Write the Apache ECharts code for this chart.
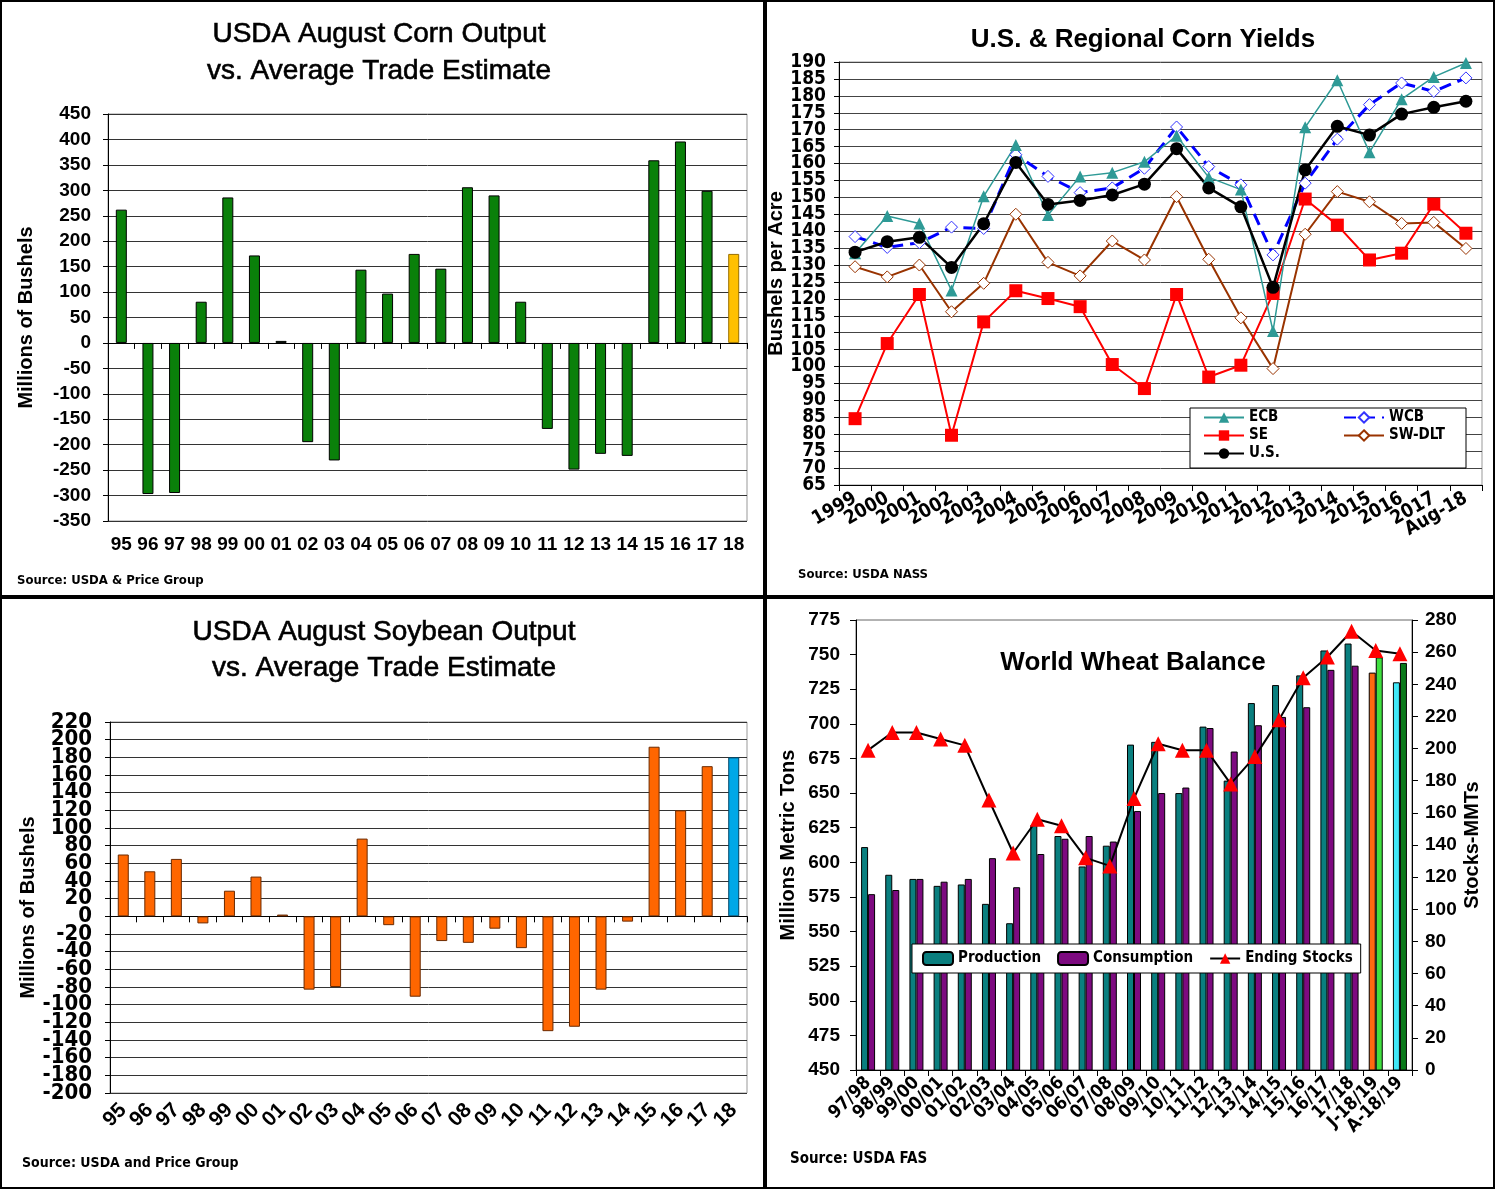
<!DOCTYPE html>
<html><head><meta charset="utf-8">
<script src="https://cdn.jsdelivr.net/npm/echarts@6/dist/echarts.min.js"></script>
<style>html,body{margin:0;padding:0;background:#fff}#c{width:1496px;height:1190px}</style>
</head><body><div id="c"></div>
<script>
// ---------- DATA ----------
const cornYears = ['95','96','97','98','99','00','01','02','03','04','05','06','07','08','09','10','11','12','13','14','15','16','17','18'];
const cornValues = [262,-297,-295,81,286,172,4,-195,-231,144,97,175,146,306,290,81,-169,-249,-218,-222,359,396,299,175];

const soyYears = cornYears;
const soyValues = [70,51,65,-8,29,45,2,-83,-80,88,-10,-91,-28,-30,-14,-36,-130,-125,-83,-6,192,120,170,180];

const yieldYears = ['1999','2000','2001','2002','2003','2004','2005','2006','2007','2008','2009','2010','2011','2012','2013','2014','2015','2016','2017','Aug-18'];
const ecbYield = [133.5,144.5,142.3,122.5,150.3,165.5,144.8,156.2,157.3,160.5,168.2,155.9,152.3,110.5,170.7,184.6,163.3,179,185.6,189.7];
const wcbYield = [138.4,135.2,136.6,141.2,140.8,162.6,156.2,151.4,152.8,158.6,170.8,159.1,153.7,133,154.2,167.2,177.4,183.8,181.3,185.3];
const seYield = [84.6,106.8,121.3,79.7,113.2,122.4,120.1,117.7,100.6,93.5,121.3,96.9,100.4,121.6,149.5,141.8,131.5,133.5,148,139.4];
const swdltYield = [129.5,126.5,130,116.2,124.6,145,130.8,126.8,137.1,131.5,150.2,131.7,114.4,99.4,139.1,151.7,148.7,142.3,142.6,134.9];
const usYield = [133.8,136.9,138.2,129.3,142.2,160.3,147.9,149.1,150.7,153.9,164.4,152.8,147.2,123.4,158.1,171,168.4,174.6,176.6,178.4];

const wheatYears = ['97/98','98/99','99/00','00/01','01/02','02/03','03/04','04/05','05/06','06/07','07/08','08/09','09/10','10/11','11/12','12/13','13/14','14/15','15/16','16/17','17/18','J-18/19','A-18/19'];
const wheatProduction = [611,591,588,583,584,570,556,627,619,597,612,685,687,650,698,659,715,728,735,753,758,737,730];
const wheatConsumption = [577,580,588,586,588,603,582,606,617,619,615,637,650,654,697,680,699,705,712,739,742,748,744];
const wheatStocks = [199,210,210,206,202,168,135,156,152,132,127,169,203,199,199,178,195,218,244,257,273,261,259];

// ---------- STYLE ----------
const F = '"Liberation Sans", Arial, sans-serif';
const FN = '"Liberation Sans Narrow", "Arial Narrow", "DejaVu Sans Condensed", "Liberation Sans", sans-serif';
const lab = (size, fam, extra) => Object.assign({color:'#000', fontWeight:'bold', fontSize:size, fontFamily:fam||F}, extra||{});

const chart = echarts.init(document.getElementById('c'), null, {renderer:'canvas'});

const cornData = cornValues.map((v,i)=> i===cornValues.length-1 ? {value:v, itemStyle:{color:'#FFC000', borderColor:'#9a7000'}} : v);
const soyData = soyValues.map((v,i)=> i===soyValues.length-1 ? {value:v, itemStyle:{color:'#00A8E8', borderColor:'#004466'}} : v);
const nW = wheatYears.length;
const prodData = wheatProduction.map((v,i)=> i===nW-2 ? {value:v, itemStyle:{color:'#FF6A10'}} : i===nW-1 ? {value:v, itemStyle:{color:'#40E8F8'}} : v);
const consData = wheatConsumption.map((v,i)=> i===nW-2 ? {value:v, itemStyle:{color:'#40E040'}} : i===nW-1 ? {value:v, itemStyle:{color:'#0A7A1A'}} : v);

const mm = {showMinLabel:true, showMaxLabel:true};
// split dense tick labels between two coincident axes (even / odd steps) so none get dropped
const parity = (min, step, want) => (v) => (Math.round((v - min) / step) % 2 === want) ? String(v) : '';
const ghost = {axisLine:{show:false}, axisTick:{show:false}, splitLine:{show:false}};

const option = {
  animation:false,
  backgroundColor:'#fff',
  grid:[
    {left:108, top:114, width:639, height:407, show:true, borderColor:'#999', borderWidth:1},
    {left:839, top:62, width:643, height:423, show:true, borderColor:'#999', borderWidth:1},
    {left:110, top:722, width:637, height:371, show:true, borderColor:'#999', borderWidth:1},
    {left:856, top:620, width:556, height:450, show:true, borderColor:'#666', borderWidth:1}
  ],
  xAxis:[
    {gridIndex:0, type:'category', data:cornYears, position:'bottom', axisLine:{show:false, onZero:false}, axisTick:{show:false},
     axisLabel:{interval:0, margin:14, ...lab(19)}},
    {gridIndex:0, type:'category', data:cornYears, position:'top', axisLine:{show:true, onZero:true, lineStyle:{color:'#000', width:1}},
     axisTick:{show:true, inside:true, length:6, lineStyle:{color:'#000'}}, axisLabel:{show:false}},
    {gridIndex:1, type:'category', data:yieldYears, boundaryGap:true, axisLine:{lineStyle:{color:'#000'}},
     axisTick:{show:true, length:6, lineStyle:{color:'#000'}}, axisLabel:{interval:0, rotate:30, margin:12, ...lab(19, FN)}},
    {gridIndex:2, type:'category', data:soyYears, position:'bottom', axisLine:{show:false, onZero:false}, axisTick:{show:false},
     axisLabel:{interval:0, rotate:45, margin:14, ...lab(21)}},
    {gridIndex:2, type:'category', data:soyYears, position:'top', axisLine:{show:true, onZero:true, lineStyle:{color:'#000', width:1}},
     axisTick:{show:true, inside:true, length:6, lineStyle:{color:'#000'}}, axisLabel:{show:false}},
    {gridIndex:3, type:'category', data:wheatYears, axisLine:{lineStyle:{color:'#000'}},
     axisTick:{show:true, length:6, lineStyle:{color:'#000'}}, axisLabel:{interval:0, rotate:45, margin:10, ...lab(18, FN)}}
  ],
  yAxis:[
    {gridIndex:0, type:'value', min:-350, max:450, interval:50, axisLine:{show:true, lineStyle:{color:'#000'}},
     axisTick:{show:true, length:5, lineStyle:{color:'#000'}}, splitLine:{lineStyle:{color:'#333', width:1}},
     axisLabel:{margin:17, ...mm, ...lab(19)}, name:'Millions of Bushels', nameLocation:'middle', nameGap:72, nameTextStyle:lab(20)},
    {gridIndex:1, type:'value', min:65, max:190, interval:5, axisLine:{show:true, lineStyle:{color:'#000'}},
     axisTick:{show:true, length:5, lineStyle:{color:'#000'}}, splitLine:{lineStyle:{color:'#444', width:1}},
     axisLabel:{margin:13, ...mm, formatter:parity(65,5,0), ...lab(19, FN)}, name:'Bushels per Acre', nameLocation:'middle', nameGap:33, nameTextStyle:lab(20)},
    {gridIndex:2, type:'value', min:-200, max:220, interval:20, axisLine:{show:true, lineStyle:{color:'#000'}},
     axisTick:{show:true, length:5, lineStyle:{color:'#000'}}, splitLine:{lineStyle:{color:'#333', width:1}},
     axisLabel:{margin:18, ...mm, formatter:parity(-200,20,0), ...lab(22, FN)}, name:'Millions of Bushels', nameLocation:'middle', nameGap:72, nameTextStyle:lab(20)},
    {gridIndex:3, type:'value', min:450, max:775, interval:25, axisLine:{show:true, lineStyle:{color:'#000'}},
     axisTick:{show:true, length:6, lineStyle:{color:'#000'}}, splitLine:{show:false},
     axisLabel:{margin:16, ...mm, ...lab(19)}, name:'Millions Metric Tons', nameLocation:'middle', nameGap:58, nameTextStyle:lab(20)},
    {gridIndex:3, type:'value', position:'right', min:0, max:280, interval:20, axisLine:{show:true, lineStyle:{color:'#000'}},
     axisTick:{show:true, length:6, lineStyle:{color:'#000'}}, splitLine:{show:false},
     axisLabel:{margin:13, ...mm, ...lab(19)}, name:'Stocks-MMTs', nameLocation:'middle', nameGap:50, nameRotate:90, nameTextStyle:lab(20)},
    // 5: odd-step labels for yields axis
    {gridIndex:1, type:'value', position:'left', min:65, max:190, interval:5, ...ghost,
     axisLabel:{margin:13, ...mm, formatter:parity(65,5,1), ...lab(19, FN)}},
    // 6: odd-step labels for soybean axis
    {gridIndex:2, type:'value', position:'left', min:-200, max:220, interval:20, ...ghost,
     axisLabel:{margin:18, ...mm, formatter:parity(-200,20,1), ...lab(22, FN)}}
  ],
  legend:[
    {data:['ECB','SE','U.S.'], orient:'vertical', left:1203, top:410, itemGap:3, itemWidth:40, itemHeight:13, z:20,
     textStyle:lab(15, FN), padding:0},
    {data:['WCB','SW-DLT'], orient:'vertical', left:1343, top:410, itemGap:3, itemWidth:40, itemHeight:13, z:20,
     textStyle:lab(15, FN), padding:0},
    {data:['Production','Consumption','Ending Stocks'], orient:'horizontal', left:912, top:944, itemGap:16, itemWidth:30, itemHeight:13,
     backgroundColor:'#fff', borderColor:'#000', borderWidth:1, padding:[7,8,7,10], z:20, textStyle:lab(15, FN)}
  ],
  series:[
    {name:'corn', type:'bar', xAxisIndex:0, yAxisIndex:0, data:cornData, barWidth:11,
     itemStyle:{color:'#0A800A', borderColor:'#000', borderWidth:1}},
    {name:'SW-DLT', type:'line', xAxisIndex:2, yAxisIndex:1, data:swdltYield, symbol:'diamond', symbolSize:12,
     lineStyle:{color:'#993300', width:2}, itemStyle:{color:'#fff', borderColor:'#993300', borderWidth:1}},
    {name:'SE', type:'line', xAxisIndex:2, yAxisIndex:1, data:seYield, symbol:'rect', symbolSize:13,
     lineStyle:{color:'#FF0000', width:2}, itemStyle:{color:'#FF0000'}},
    {name:'WCB', type:'line', xAxisIndex:2, yAxisIndex:1, data:wcbYield, symbol:'diamond', symbolSize:12,
     lineStyle:{color:'#0000FF', width:3, type:[12,7]}, itemStyle:{color:'#fff', borderColor:'#3333FF', borderWidth:1}},
    {name:'ECB', type:'line', xAxisIndex:2, yAxisIndex:1, data:ecbYield, symbol:'triangle', symbolSize:12,
     lineStyle:{color:'#2E9A96', width:1.5}, itemStyle:{color:'#2E9A96'}},
    {name:'U.S.', type:'line', xAxisIndex:2, yAxisIndex:1, data:usYield, symbol:'circle', symbolSize:13,
     lineStyle:{color:'#000', width:2.5}, itemStyle:{color:'#000'}},
    {name:'soy', type:'bar', xAxisIndex:3, yAxisIndex:2, data:soyData, barWidth:11,
     itemStyle:{color:'#FF6600', borderColor:'#6b2a00', borderWidth:1}},
    {name:'Production', type:'bar', xAxisIndex:5, yAxisIndex:3, data:prodData, barWidth:7, barGap:'0%',
     itemStyle:{color:'#0A7F7F', borderColor:'#000', borderWidth:1}},
    {name:'Consumption', type:'bar', xAxisIndex:5, yAxisIndex:3, data:consData, barWidth:7, barGap:'0%',
     itemStyle:{color:'#7D0A80', borderColor:'#000', borderWidth:1}},
    {name:'Ending Stocks', type:'line', xAxisIndex:5, yAxisIndex:4, data:wheatStocks, symbol:'triangle', symbolSize:15, z:5,
     lineStyle:{color:'#000', width:2}, itemStyle:{color:'#FF0000'}}
  ],
  graphic:[
    {type:'rect', z:10, shape:{x:1190, y:408, width:276, height:60}, style:{fill:'#fff', stroke:'#000', lineWidth:1}},
    {type:'text', z:30, x:379, y:16, style:{text:'USDA August Corn Output\nvs. Average Trade Estimate', textAlign:'center', textVerticalAlign:'top',
      font:'normal 28px "Liberation Sans", Arial, sans-serif', lineHeight:37, fill:'#000', stroke:'#000', lineWidth:0.6}},
    {type:'text', z:30, x:1143, y:27, style:{text:'U.S. & Regional Corn Yields', textAlign:'center', textVerticalAlign:'top',
      font:'bold 26px "Liberation Sans", Arial, sans-serif', fill:'#000'}},
    {type:'text', z:30, x:384, y:614, style:{text:'USDA August Soybean Output\nvs. Average Trade Estimate', textAlign:'center', textVerticalAlign:'top',
      font:'normal 28px "Liberation Sans", Arial, sans-serif', lineHeight:36, fill:'#000', stroke:'#000', lineWidth:0.6}},
    {type:'text', z:30, x:1133, y:650, style:{text:'World Wheat Balance', textAlign:'center', textVerticalAlign:'top',
      font:'bold 26px "Liberation Sans", Arial, sans-serif', fill:'#000'}},
    {type:'text', z:30, x:17, y:574, style:{text:'Source: USDA & Price Group', textVerticalAlign:'top', font:'bold 13px ' + FN, fill:'#000'}},
    {type:'text', z:30, x:798, y:568, style:{text:'Source: USDA NASS', textVerticalAlign:'top', font:'bold 13px ' + FN, fill:'#000'}},
    {type:'text', z:30, x:22, y:1156, style:{text:'Source: USDA and Price Group', textVerticalAlign:'top', font:'bold 14px ' + FN, fill:'#000'}},
    {type:'text', z:30, x:790, y:1152, style:{text:'Source: USDA FAS', textVerticalAlign:'top', font:'bold 15px ' + FN, fill:'#000'}},
    {type:'rect', z:40, shape:{x:1, y:1, width:763, height:595}, style:{fill:'none', stroke:'#000', lineWidth:2}},
    {type:'rect', z:40, shape:{x:766, y:1, width:728, height:595}, style:{fill:'none', stroke:'#000', lineWidth:2}},
    {type:'rect', z:40, shape:{x:1, y:598, width:763, height:590}, style:{fill:'none', stroke:'#000', lineWidth:2}},
    {type:'rect', z:40, shape:{x:766, y:598, width:728, height:590}, style:{fill:'none', stroke:'#000', lineWidth:2}}
  ]
};
chart.setOption(option);
</script>
</body></html>
